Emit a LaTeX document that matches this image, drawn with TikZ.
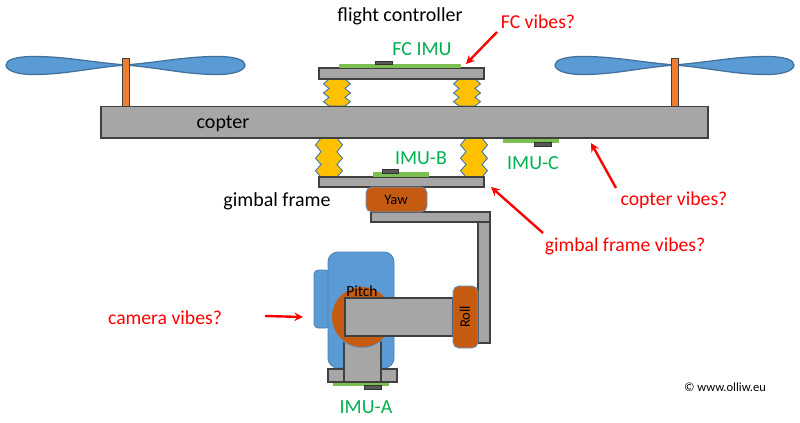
\documentclass[tikz,border=0pt]{standalone}
\usepackage{fontspec}
\setmainfont{Carlito}
\definecolor{barGray}{HTML}{A6A6A6}
\definecolor{edgeGray}{HTML}{404040}
\definecolor{camBlue}{HTML}{5B9BD5}
\definecolor{bladeEdge}{HTML}{41719C}
\definecolor{motorBrown}{HTML}{C55A11}
\definecolor{shaftOrange}{HTML}{ED7D31}
\definecolor{damperYellow}{HTML}{FFC000}
\definecolor{damperBlue}{HTML}{2E75B6}
\definecolor{pcbGreen}{HTML}{7DBE50}
\definecolor{imuGreen}{HTML}{00B050}
\definecolor{chipGray}{HTML}{595959}
\begin{document}
\begin{tikzpicture}[x=0.025cm,y=-0.025cm]
        % Define styles
        \tikzset{
            bar/.style={draw=edgeGray, fill=barGray, line width=0.8pt},
            motor/.style={draw=camBlue, fill=motorBrown, line width=0.5pt, rounded corners=4pt},
            camera/.style={draw=camBlue!85!black, fill=camBlue, line width=0.6pt, rounded corners=7pt},
            shaft/.style={draw=edgeGray, fill=shaftOrange, line width=0.7pt},
            blade/.style={draw=bladeEdge, fill=camBlue, line width=0.9pt},
            damper/.style={draw=damperBlue, fill=damperYellow, line width=0.6pt},
            pcb/.style={fill=pcbGreen},
            chip/.style={draw=black!80, fill=chipGray, line width=0.5pt},
            plain/.style={font=\fontsize{14.2}{16}\selectfont, text=black, inner sep=0pt},
            small/.style={font=\fontsize{10.3}{12}\selectfont, text=black, inner sep=0pt},
            imu/.style={font=\fontsize{14.2}{16}\selectfont, text=imuGreen, inner sep=0pt},
            vibes/.style={font=\fontsize{14}{16}\selectfont, text=red, inner sep=0pt},
            arrow/.style={->,>=stealth, draw=red, line width=1.7pt}
        }
        \useasboundingbox (0,0) rectangle (800,422);

        % Propellers
        \foreach \hub in {125.5,674.5}{
            \foreach \side in {1,-1}{
                \draw[blade, shift={(\hub,65)}, xscale=\side]
                    (0,0) .. controls (40,-3.5) and (60,-8.5) .. (92,-8.5)
                    .. controls (110,-8.5) and (119.5,-5) .. (119.5,0)
                    .. controls (119.5,5) and (110,9.5) .. (92,9.5)
                    .. controls (60,9.5) and (40,3.5) .. (0,0) -- cycle;
            }
        }
        \draw[shaft] (122,58) rectangle (129,106);
        \draw[shaft] (671,58) rectangle (678,106);

        % Dampers
        \foreach \cx/\ytop/\len in {337/79/27,467/79/27,329/138/39,474/138/39}{
            \draw[damper, shift={(\cx,\ytop)}, yscale=\len]
                (-8,0) -- (-13.5,0.18) -- (-8,0.35) -- (-13.5,0.52) -- (-8,0.68) -- (-13.5,0.84) -- (-8,1)
                -- (8,1) -- (13.5,0.84) -- (8,0.68) -- (13.5,0.52) -- (8,0.35) -- (13.5,0.18) -- (8,0) -- cycle;
        }

        % Copter and boards
        \draw[bar] (101,106.5) rectangle (708,138);
        \draw[bar] (319,68) rectangle (484,79);
        \draw[bar] (319,177) rectangle (484,187);
        \fill[pcb] (339,63.5) rectangle (461,68);
        \draw[chip] (375,61) rectangle (392,64);
        \fill[pcb] (373,172) rectangle (429,177);
        \draw[chip] (382,169) rectangle (398,173);
        \fill[pcb] (503,138.5) rectangle (559,143);
        \draw[chip] (534,142.5) rectangle (551,146);

        % Gimbal arms
        \draw[bar] (371,212) rectangle (490,222);
        \draw[bar] (478,222) rectangle (490,343);

        % Camera
        \draw[camera, rounded corners=3pt] (314,270) rectangle (330,328);
        \draw[camera] (328,252) rectangle (394,368);
        \fill[pcb] (333,382) rectangle (389,385.5);
        \draw[chip] (364,385) rectangle (381,389);
        \draw[bar] (328,369) rectangle (397,382);
        \draw[bar] (344,340) rectangle (381,382);
        \draw[draw=camBlue, fill=motorBrown, line width=0.6pt] (362,317) circle (30.5);
        \draw[bar] (345,298) rectangle (453,336);

        % Motors
        \draw[motor] (366,187) rectangle (427,212);
        \draw[motor] (453,286) rectangle (478,348);
        \node[small] (yaw_label) at (396,200) {Yaw};
        \node[small, rotate=90] (roll_label) at (465,317) {Roll};
        \node[plain, font=\fontsize{11}{13}\selectfont] (pitch_label) at (362,291) {Pitch};

        % Labels
        \node[plain] (fc_label) at (400,16) {flight controller};
        \node[plain] (copter_label) at (223,124) {copter};
        \node[plain] (frame_label) at (277,201) {gimbal frame};
        \node[imu] (fc_imu) at (422,49) {FC IMU};
        \node[imu] (imu_b) at (421,158) {IMU-B};
        \node[imu] (imu_c) at (533,163) {IMU-C};
        \node[imu] (imu_a) at (366,407) {IMU-A};
        \node[small, font=\fontsize{8.9}{11}\selectfont] (copyright) at (725,387) {© www.olliw.eu};
        \node[vibes] (fc_vibes) at (538,21.5) {FC vibes?};
        \node[vibes] (copter_vibes) at (674,200.5) {copter vibes?};
        \node[vibes] (frame_vibes) at (625,246.5) {gimbal frame vibes?};
        \node[vibes] (camera_vibes) at (165,317.5) {camera vibes?};

        % Arrows
        \coordinate (fc_tail) at (497,32);
        \coordinate (fc_tip) at (466,64);
        \coordinate (copter_tail) at (616,188);
        \coordinate (copter_tip) at (591,143);
        \coordinate (frame_tail) at (543,233);
        \coordinate (frame_tip) at (491,187);
        \coordinate (camera_tail) at (265,316);
        \coordinate (camera_tip) at (303,317);
        \draw[arrow] (fc_tail) -- (fc_tip);
        \draw[arrow] (copter_tail) -- (copter_tip);
        \draw[arrow] (frame_tail) -- (frame_tip);
        \draw[arrow] (camera_tail) -- (camera_tip);
\end{tikzpicture}
\end{document}
